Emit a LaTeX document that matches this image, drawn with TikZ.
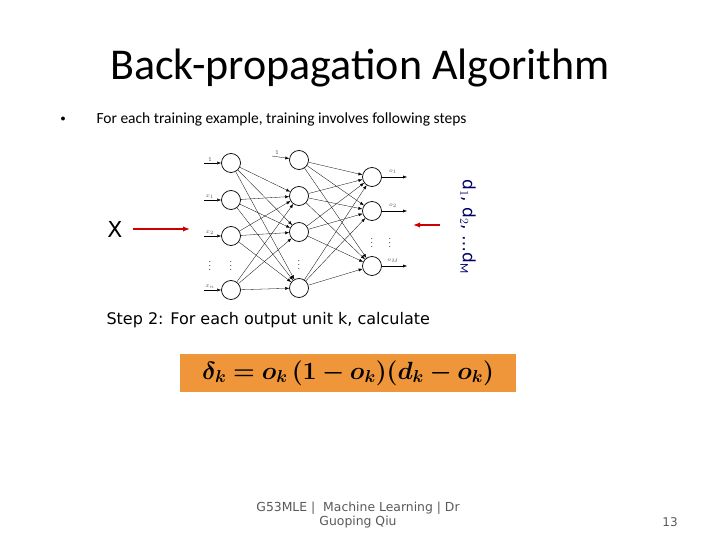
\documentclass[tikz,border=0pt]{standalone}
\usepackage{amsmath,bm}
\usepackage{fontspec}
\setmainfont{Carlito}
\setsansfont{DejaVu Sans}
\usetikzlibrary{arrows.meta}
\begin{document}
\begin{tikzpicture}[x=1pt,y=-1pt,
    neuron/.style={draw,circle,minimum size=19pt,inner sep=0pt,line width=0.7pt},
    wire/.style={-{Latex[length=4pt]},line width=0.3pt},
    lbl/.style={font=\fontsize{6}{6}\selectfont,text=gray!70!black,inner sep=1pt}]
  \useasboundingbox (0,0) rectangle (720,540);

  \node (title) at (360,68) {\fontsize{44}{48}\selectfont Back-propagation Algorithm};
  \node (bullet) at (63,119) {\fontsize{10}{10}\selectfont$\bullet$};
  \node[anchor=west] (intro) at (93,119) {\fontsize{15.5}{18}\selectfont For each training example, training involves following steps};

  % input layer
  \foreach \i/\y/\t in {1/163/1,2/200/$x_1$,3/236/$x_2$,4/290/$x_n$} {
    \node[neuron] (in\i) at (231,\y) {};
    \coordinate (s\i) at (204,\y);
    \draw[wire] (s\i) -- (in\i);
    \node[lbl,anchor=south] (t\i) at (210,\y) {\t};
  }
  % hidden layer
  \foreach \i/\y in {1/160,2/196,3/232,4/288} {
    \node[neuron] (hid\i) at (299,\y) {};
  }
  \coordinate (sb) at (272,156);
  \draw[wire] (sb) -- (hid1);
  \node[lbl,anchor=south] (tb) at (277,156) {1};
  % output layer
  \foreach \i/\y/\t in {1/177/$o_1$,2/211/$o_2$,3/266/$o_M$} {
    \node[neuron] (out\i) at (372,\y) {};
    \coordinate (e\i) at (407,\y);
    \draw[wire] (out\i) -- (e\i);
    \node[lbl,anchor=south] (u\i) at (393,\y-2) {\t};
  }
  \foreach \i in {1,...,4} \foreach \j in {2,3,4} \draw[wire] (in\i) -- (hid\j);
  \foreach \i in {1,...,4} \foreach \j in {1,2,3} \draw[wire] (hid\i) -- (out\j);

  % dots
  \foreach \x/\y in {210/263,231/263,299/262,372/240,390/240}
    \node[font=\fontsize{8}{8}\selectfont,inner sep=0pt] (dd\x) at (\x,\y) {$\vdots$};

  % targets
  \node (X) at (115,229) {\fontsize{22}{24}\selectfont\sffamily X};
  \coordinate (xa) at (133,229);
  \coordinate (xb) at (190,229);
  \draw[red!80!black,line width=1.2pt,-{Latex[length=7pt]}] (xa) -- (xb);
  \coordinate (da) at (440,225);
  \coordinate (db) at (413,225);
  \draw[red!80!black,line width=1.2pt,-{Latex[length=7pt]}] (da) -- (db);
  \node[rotate=-90,text=blue!40!black] (d) at (468,227) {\fontsize{17}{20}\selectfont\sffamily d$_1$, d$_2$, \ldots d$_\mathrm{M}$};

  \node[anchor=west] (step) at (103,320) {\fontsize{16}{18}\selectfont\sffamily Step 2: For each output unit k, calculate};
  \node[fill={rgb,255:red,240;green,150;blue,58},minimum width=336pt,minimum height=38pt] (eq) at (348,373)
    {\fontsize{25}{28}\selectfont$\bm{\delta_k = o_k\,(1-o_k)(d_k-o_k)}$};

  \node[align=center,text=gray!70!black] (foot) at (358,515) {\fontsize{12.4}{14}\selectfont\sffamily G53MLE | \ Machine Learning | Dr\\\fontsize{12.4}{14}\selectfont\sffamily Guoping Qiu};
  \node[text=gray!70!black] (num) at (670,522) {\fontsize{12}{14}\selectfont\sffamily 13};
\end{tikzpicture}
\end{document}
